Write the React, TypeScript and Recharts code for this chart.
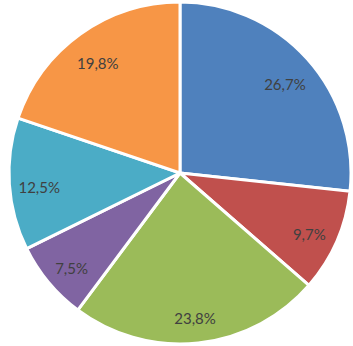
import React from 'react';
import { PieChart, Pie, Cell } from 'recharts';

const categories = ['A', 'B', 'C', 'D', 'E', 'F'];
const values = [26.7, 9.7, 23.8, 7.5, 12.5, 19.8];
const colors = ['#4F81BD', '#C0504D', '#9BBB59', '#8064A2', '#4BACC6', '#F79646'];

const data = categories.map((name, i) => ({ name, value: values[i] }));

const RAD = Math.PI / 180;

const renderLabel = (props: any) => {
  const { cx, cy, midAngle, outerRadius, value } = props;
  const r = outerRadius * 0.825;
  const x = cx + r * Math.cos(-midAngle * RAD);
  const y = cy + r * Math.sin(-midAngle * RAD) + 5;
  return (
    <text
      x={x}
      y={y}
      fill="#404040"
      fontSize={15}
      fontFamily="Lato, 'Open Sans', sans-serif"
      textAnchor="middle"
      dominantBaseline="central"
    >
      {value.toFixed(1).replace('.', ',') + '%'}
    </text>
  );
};

export default function App() {
  return (
    <div style={{ position: 'absolute', left: 0, top: 0, width: 353, height: 346, background: '#fff' }}>
      <PieChart width={353} height={346} margin={{ top: 0, right: 0, bottom: 0, left: 0 }}>
        <Pie
          data={data}
          dataKey="value"
          nameKey="name"
          cx={180}
          cy={173}
          outerRadius={171}
          startAngle={90}
          endAngle={-270}
          stroke="#ffffff"
          strokeWidth={3}
          label={renderLabel}
          labelLine={false}
          isAnimationActive={false}
        >
          {data.map((d, i) => (
            <Cell key={d.name} fill={colors[i]} />
          ))}
        </Pie>
      </PieChart>
    </div>
  );
}
